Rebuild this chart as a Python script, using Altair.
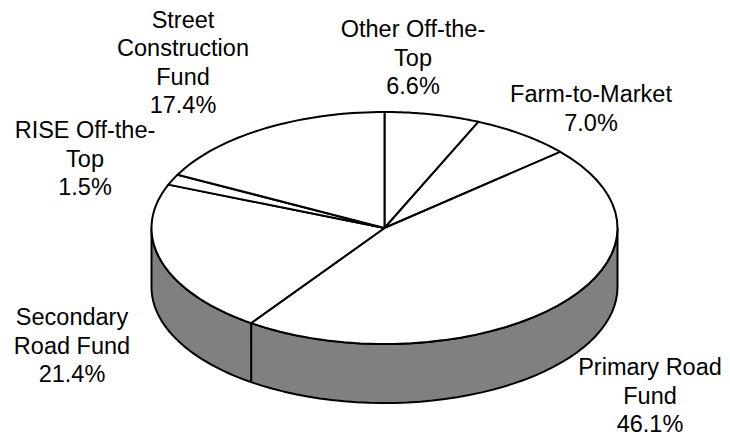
import altair as alt
import pandas as pd

# ---- data ----
categories = ["Other Off-the-Top", "Farm-to-Market", "Primary Road Fund",
              "Secondary Road Fund", "RISE Off-the-Top", "Street Construction Fund"]
shares = [6.6, 7.0, 46.1, 21.4, 1.5, 17.4]
label_lines = [["Other Off-the-", "Top"], ["Farm-to-Market"], ["Primary Road", "Fund"],
               ["Secondary", "Road Fund"], ["RISE Off-the-", "Top"],
               ["Street", "Construction", "Fund"]]

# ---- layout (pixel space of the page) ----
label_x = [413, 591, 650, 72, 85, 183]
label_y = [37, 102, 375, 325, 138, 27.5]
CX, CY, RX, RY, DEPTH = 384.5, 228, 233, 116, 59
W, H = 714, 429

df = pd.DataFrame({
    "idx": list(range(len(categories))),
    "category": categories,
    "share": shares,
    "label": ["\n".join(l + [f"{v:.1f}%"]) for l, v in zip(label_lines, shares)],
    "lx": label_x,
    "ly": label_y,
})

xs = alt.Scale(domain=[8, 8 + W], nice=False, zero=False)
ys = alt.Scale(domain=[8, 8 + H], nice=False, zero=False, reverse=True)

base = alt.Chart(df).transform_window(
    cum="sum(share)", frame=[None, 0], sort=[alt.SortField("idx")]
).transform_calculate(start="datum.cum - datum.share")

# top face slices: center -> arc -> center
top = base.transform_calculate(k="sequence(0, 43)").transform_flatten(["k"]).transform_calculate(
    t="(datum.start + datum.share * clamp(datum.k - 1, 0, 40) / 40) * PI / 50"
).transform_calculate(
    px=f"(datum.k == 0 || datum.k == 42) ? {CX} : {CX} + {RX} * sin(datum.t)",
    py=f"(datum.k == 0 || datum.k == 42) ? {CY} : {CY} - {RY} * cos(datum.t)",
).mark_line(filled=True, fill="white", stroke="black", strokeWidth=2, strokeJoin="round").encode(
    x=alt.X("px:Q", scale=xs, axis=None),
    y=alt.Y("py:Q", scale=ys, axis=None),
    detail="category:N",
    order="k:Q",
)

# front side wall (visible between 25% and 75% of the turn)
side = base.transform_calculate(
    s0="max(datum.start, 25)", s1="min(datum.cum, 75)"
).transform_filter("datum.s1 > datum.s0").transform_calculate(
    k="sequence(0, 83)"
).transform_flatten(["k"]).transform_calculate(
    f="datum.k <= 40 ? datum.k / 40 : (datum.k <= 81 ? (81 - datum.k) / 40 : 0)",
    dz=f"(datum.k > 40 && datum.k <= 81) ? {DEPTH} : 0",
).transform_calculate(
    t="(datum.s0 + (datum.s1 - datum.s0) * datum.f) * PI / 50"
).transform_calculate(
    px=f"{CX} + {RX} * sin(datum.t)",
    py=f"{CY} - {RY} * cos(datum.t) + datum.dz",
).mark_line(filled=True, fill="#808080", stroke="black", strokeWidth=2, strokeJoin="round").encode(
    x=alt.X("px:Q", scale=xs, axis=None),
    y=alt.Y("py:Q", scale=ys, axis=None),
    detail="category:N",
    order="k:Q",
)

labels = alt.Chart(df).mark_text(
    font="Liberation Sans", fontSize=23.5, lineHeight=28.5, lineBreak="\n",
    align="center", baseline="alphabetic", color="black"
).encode(
    x=alt.X("lx:Q", scale=xs, axis=None),
    y=alt.Y("ly:Q", scale=ys, axis=None),
    text="label:N",
)

chart = alt.layer(side, top, labels).properties(
    width=W, height=H, padding=0, autosize="none", background="white"
).configure_view(stroke=None)

chart.save("out.html", embed_options={"renderer": "svg", "actions": False})
